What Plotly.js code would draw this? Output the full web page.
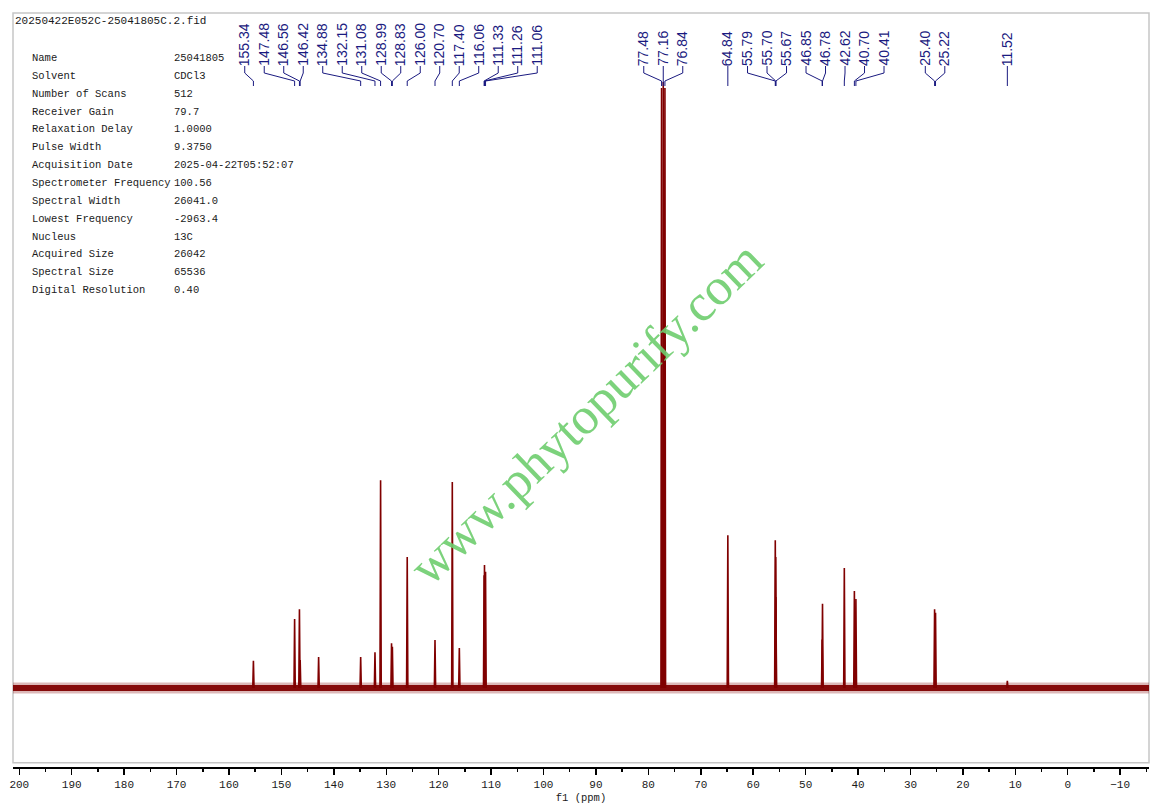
<!DOCTYPE html>
<html><head><meta charset="utf-8">
<script src="https://cdn.plot.ly/plotly-3.0.1.min.js"></script>
<style>html,body{margin:0;padding:0;background:#fff}#chart{width:1162px;height:810px}</style>
</head><body><div id="chart"></div>
<script>
// ---------------- data ----------------
const fileName = '20250422E052C-25041805C.2.fid';
const paramNames = ['Name','Solvent','Number of Scans','Receiver Gain','Relaxation Delay','Pulse Width','Acquisition Date','Spectrometer Frequency','Spectral Width','Lowest Frequency','Nucleus','Acquired Size','Spectral Size','Digital Resolution'];
const paramValues = ['25041805','CDCl3','512','79.7','1.0000','9.3750','2025-04-22T05:52:07','100.56','26041.0','-2963.4','13C','26042','65536','0.40'];

// peak positions (ppm) and intensities (arbitrary units, baseline = 0)
const peakPpm    = [155.34,147.48,146.56,146.42,142.90,134.88,132.15,131.08,128.99,128.83,126.00,120.70,117.40,116.06,111.33,111.26,111.06,77.48,77.16,76.84,64.84,55.79,55.70,55.67,46.85,46.78,42.62,40.70,40.41,25.40,25.22,11.52];
const peakHeight = [4.5,11.4,13.0,4.6,5.1,5.1,5.9,34.3,7.4,6.8,21.6,7.9,34.0,6.6,18.6,20.3,19.2,99,100,99,25.2,24.4,21.6,15.0,8.0,13.9,19.8,16.0,14.7,13.0,12.4,1.2];

// labelled peaks (ppm)
const labelPpm = [155.34,147.48,146.56,146.42,134.88,132.15,131.08,128.99,128.83,126.00,120.70,117.40,116.06,111.33,111.26,111.06,77.48,77.16,76.84,64.84,55.79,55.70,55.67,46.85,46.78,42.62,40.70,40.41,25.40,25.22,11.52];

const xAxisTitle = 'f1 (ppm)';
const watermark = 'www.phytopurify.com';

// ---------------- layout constants ----------------
const W = 1162, H = 810;
const M = {l: 13, r: 13, t: 13, b: 43};
const plotW = W - M.l - M.r;
const plotH = H - M.t - M.b;
const xRange = [201.2, -15.5];
const yRange = [-13.04, 111.39];
const pyToPaper = py => (H - M.b - py) / plotH;
const pxToPaperX = px => (px - M.l) / plotW;
const ppmToPx = p => M.l + (xRange[0] - p) / (xRange[0] - xRange[1]) * plotW;
const pxToPpm = px => xRange[0] - (px - M.l) / plotW * (xRange[0] - xRange[1]);

const specColor = '#800000';
const labelColor = '#1a1a80';

// ---------------- traces ----------------
const halfW = 0.12;
const sx = [], sy = [];
peakPpm.forEach((p, i) => { sx.push(p + halfW, p, p - halfW, null); sy.push(0, peakHeight[i], 0, null); });

const traces = [
  {x: xRange, y: [0, 0], mode: 'lines', line: {color: 'rgba(128,0,0,0.28)', width: 11}, hoverinfo: 'skip', showlegend: false},
  {x: xRange, y: [0, 0], mode: 'lines', line: {color: 'rgba(128,0,0,0.95)', width: 6}, hoverinfo: 'skip', showlegend: false},
  {x: sx, y: sy, mode: 'lines', line: {color: specColor, width: 1.6}, connectgaps: false, hoverinfo: 'skip', showlegend: false}
];

// ---------------- peak label placement ----------------
const minGap = 19.5;
const pos = labelPpm.map(ppmToPx);
for (let it = 0; it < 5000; it++) {
  let moved = false;
  for (let i = 0; i < pos.length - 1; i++) {
    const g = pos[i + 1] - pos[i];
    if (g < minGap - 1e-3) { const s = (minGap - g) / 2; pos[i] -= s; pos[i + 1] += s; moved = true; }
  }
  if (!moved) break;
}

const annotations = [];
const shapes = [];

labelPpm.forEach((p, i) => {
  const lx = pxToPpm(pos[i]);
  annotations.push({
    x: lx, xref: 'x', y: pyToPaper(67), yref: 'paper',
    text: p.toFixed(2), textangle: -90, showarrow: false,
    xanchor: 'center', yanchor: 'bottom', borderpad: 0,
    font: {family: 'Liberation Sans, Arial, sans-serif', size: 14, color: labelColor}
  });
  shapes.push({
    type: 'path', xref: 'x', yref: 'paper',
    path: `M ${lx},${pyToPaper(66)} L ${lx},${pyToPaper(73)} L ${p},${pyToPaper(81)} L ${p},${pyToPaper(86)}`,
    line: {color: labelColor, width: 1}
  });
});

// frame
shapes.push({type: 'rect', xref: 'paper', yref: 'paper', x0: 0, x1: 1, y0: pyToPaper(762.7), y1: 1,
  line: {color: '#c6c6c6', width: 1.5}, fillcolor: 'rgba(0,0,0,0)', layer: 'below'});

// file name
const monoFont = 'Liberation Mono, Courier New, monospace';
annotations.push({x: 0, xref: 'paper', y: pyToPaper(21), yref: 'paper', text: fileName, showarrow: false,
  xanchor: 'left', yanchor: 'middle', font: {family: monoFont, size: 11, color: '#1a1a1a'}});

// parameter table
paramNames.forEach((n, i) => {
  const py = 58 + i * 17.85;
  annotations.push({x: pxToPaperX(30), xref: 'paper', y: pyToPaper(py), yref: 'paper', text: n, showarrow: false,
    xanchor: 'left', yanchor: 'middle', font: {family: monoFont, size: 10.5, color: '#1a1a1a'}});
  annotations.push({x: pxToPaperX(172), xref: 'paper', y: pyToPaper(py), yref: 'paper', text: paramValues[i], showarrow: false,
    xanchor: 'left', yanchor: 'middle', font: {family: monoFont, size: 10.5, color: '#1a1a1a'}});
});

// watermark
annotations.push({x: pxToPaperX(585), xref: 'paper', y: pyToPaper(413), yref: 'paper', text: watermark,
  textangle: -44, showarrow: false, xanchor: 'center', yanchor: 'middle',
  font: {family: 'Liberation Serif, Times New Roman, serif', size: 52, color: 'rgba(110,205,110,0.9)'}});

const layout = {
  width: W, height: H,
  margin: M,
  paper_bgcolor: '#fff', plot_bgcolor: '#fff',
  showlegend: false,
  xaxis: {
    range: xRange, autorange: false, fixedrange: true,
    showgrid: false, zeroline: false,
    showline: true, linecolor: '#000', linewidth: 1.5,
    ticks: 'outside', ticklen: 6, tickwidth: 1.5, tickcolor: '#000',
    tick0: 0, dtick: 10,
    tickfont: {family: monoFont, size: 11, color: '#1a1a1a'},
    minor: {tick0: 0, dtick: 5, ticks: 'outside', ticklen: 3, tickwidth: 1.5, tickcolor: '#000', showgrid: false},
    title: {text: xAxisTitle, font: {family: monoFont, size: 10.5, color: '#1a1a1a'}, standoff: 4}
  },
  yaxis: {range: yRange, autorange: false, visible: false, fixedrange: true, showgrid: false, zeroline: false},
  shapes: shapes,
  annotations: annotations
};

Plotly.newPlot('chart', traces, layout, {staticPlot: true, displayModeBar: false});
</script>
</body></html>
